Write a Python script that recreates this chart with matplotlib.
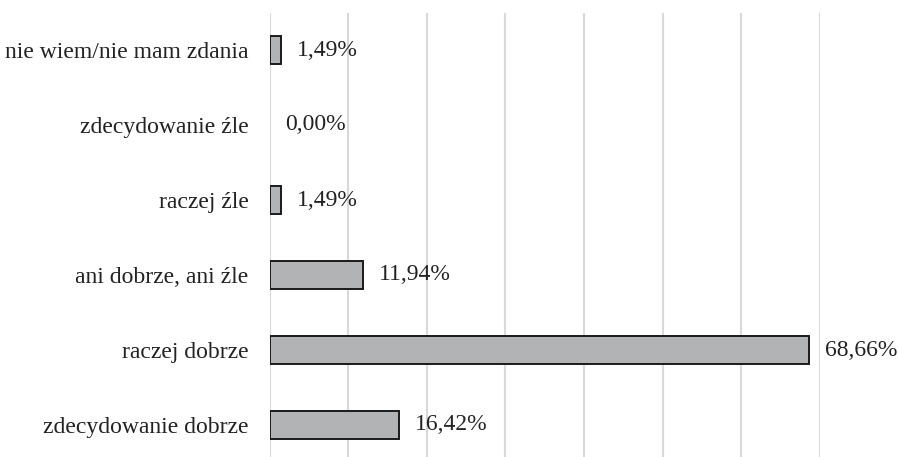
import matplotlib.pyplot as plt

# Data (bottom to top)
categories = ["zdecydowanie dobrze", "raczej dobrze", "ani dobrze, ani źle",
              "raczej źle", "zdecydowanie źle", "nie wiem/nie mam zdania"]
values = [16.42, 68.66, 11.94, 1.49, 0.00, 1.49]
value_labels = ["16,42%", "68,66%", "11,94%", "1,49%", "0,00%", "1,49%"]

plt.rcParams['font.family'] = ['Liberation Serif', 'DejaVu Serif']

W, H = 898, 457
fig = plt.figure(figsize=(W / 100, H / 100), dpi=100)
left, right, top = 269.5, 820, 12.5
ax = fig.add_axes([left / W, 0, (right - left) / W, (H - top) / H])

pos = range(len(categories))
# no outline on empty bars
widths = [1.4 if v > 0 else 0 for v in values]
ax.barh(pos, values, height=0.37, color="#b2b3b5",
        edgecolor="#1a1a1a", linewidth=widths, zorder=3)

for p, v, lab in zip(pos, values, value_labels):
    ax.annotate(lab, (v, p), xytext=(11.5, 0), textcoords="offset points",
                ha="left", va="center", fontsize=17, color="#222222")

ax.set_xlim(0, 70)
ax.set_ylim(-0.5 + 5.5 / 75, 5.5)
ax.set_xticks(range(0, 71, 10))
ax.set_xticklabels([])
ax.tick_params(axis="x", length=0)
ax.set_yticks(list(pos))
ax.set_yticklabels(categories, fontsize=17, color="#222222")
ax.tick_params(axis="y", length=0, pad=15)
ax.grid(axis="x", color="#d9d9d9", linewidth=1.5, zorder=0)
for s in ax.spines.values():
    s.set_visible(False)

fig.savefig("out.png", dpi=100)
